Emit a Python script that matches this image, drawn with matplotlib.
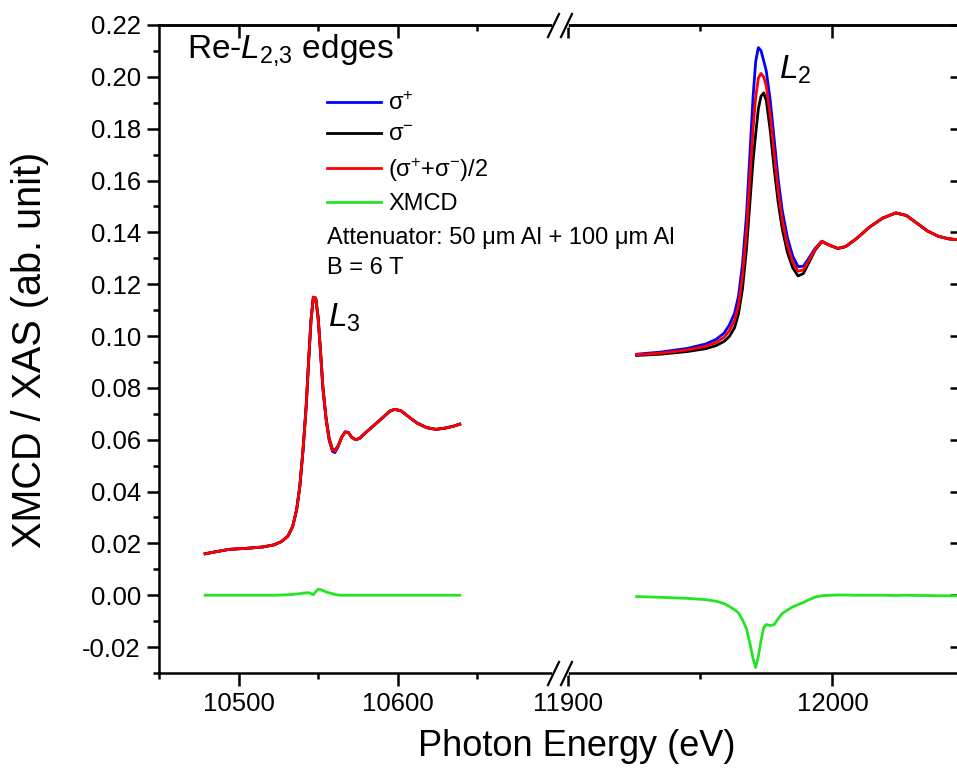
import matplotlib
matplotlib.use("Agg")
import matplotlib.pyplot as plt
from matplotlib.lines import Line2D
from matplotlib.ticker import FixedLocator, MultipleLocator, FormatStrFormatter

plt.rcParams['font.family'] = ['Liberation Sans', 'DejaVu Sans']
plt.rcParams['mathtext.fontset'] = 'custom'
plt.rcParams['mathtext.rm'] = 'Liberation Sans'
plt.rcParams['mathtext.it'] = 'Liberation Sans:italic'
plt.rcParams['axes.unicode_minus'] = False

# ---- L3 edge (left segment) ----
l3_energy = [10479, 10485, 10494, 10505, 10515, 10522, 10527, 10531, 10534, 10536.5,
             10538.5, 10540.5, 10542.5, 10544, 10545.5, 10547, 10548.5, 10550, 10551.5, 10553,
             10555, 10557, 10559, 10560.5, 10562.5, 10565, 10567, 10569, 10571, 10573.5,
             10576, 10580, 10585, 10590, 10595, 10598, 10602, 10607, 10612, 10618,
             10624, 10630, 10635, 10639]
l3_avg = [0.0160, 0.0167, 0.0177, 0.0181, 0.0186, 0.0194, 0.0207, 0.0228, 0.0265, 0.0330,
          0.0420, 0.0560, 0.0730, 0.0900, 0.1060, 0.1150, 0.1145, 0.1070, 0.0940, 0.0800,
          0.0680, 0.0600, 0.0560, 0.0555, 0.0575, 0.0612, 0.0630, 0.0628, 0.0610, 0.0600,
          0.0605, 0.0628, 0.0655, 0.0682, 0.0710, 0.0717, 0.0712, 0.0688, 0.0665, 0.0647,
          0.0640, 0.0645, 0.0652, 0.0660]
l3_plus = [0.0160, 0.0167, 0.0177, 0.0181, 0.0186, 0.0194, 0.0207, 0.0228, 0.0265, 0.0330,
           0.0420, 0.0560, 0.0730, 0.0900, 0.1060, 0.1150, 0.1143, 0.1066, 0.0936, 0.0796,
           0.0675, 0.0595, 0.0555, 0.0550, 0.0572, 0.0612, 0.0630, 0.0628, 0.0610, 0.0600,
           0.0605, 0.0628, 0.0655, 0.0682, 0.0710, 0.0717, 0.0712, 0.0688, 0.0665, 0.0647,
           0.0640, 0.0645, 0.0652, 0.0660]
l3_minus = [0.0160, 0.0167, 0.0177, 0.0181, 0.0186, 0.0194, 0.0207, 0.0228, 0.0265, 0.0330,
            0.0420, 0.0560, 0.0730, 0.0900, 0.1060, 0.1150, 0.1147, 0.1074, 0.0944, 0.0804,
            0.0685, 0.0604, 0.0564, 0.0558, 0.0577, 0.0612, 0.0630, 0.0628, 0.0610, 0.0600,
            0.0605, 0.0628, 0.0655, 0.0682, 0.0710, 0.0717, 0.0712, 0.0688, 0.0665, 0.0647,
            0.0640, 0.0645, 0.0652, 0.0660]
l3_xmcd = [0.0000, 0.0000, 0.0000, 0.0000, 0.0000, 0.0000, 0.0001, 0.0002, 0.0003, 0.0005,
           0.0006, 0.0008, 0.0009, 0.0010, 0.0006, 0.0002, 0.0014, 0.0023, 0.0022, 0.0018,
           0.0013, 0.0009, 0.0006, 0.0003, 0.0001, 0.0000, 0.0000, 0.0000, 0.0000, 0.0000,
           0.0000, 0.0000, 0.0000, 0.0000, 0.0000, 0.0000, 0.0000, 0.0000, 0.0000, 0.0000,
           0.0000, 0.0000, 0.0000, 0.0000]

# ---- L2 edge (right segment) ----
l2_energy = [11926, 11935, 11945, 11952, 11956, 11959, 11961, 11963, 11964.5, 11966,
             11967.5, 11969, 11970, 11971, 11972, 11973, 11974, 11975, 11976.5, 11978,
             11979.5, 11981, 11983, 11985, 11987, 11989, 11991, 11993.5, 11996, 11999,
             12002, 12005, 12009, 12014, 12019, 12024, 12028, 12032, 12036, 12040,
             12044, 12049]
l2_avg = [0.0928, 0.0934, 0.0946, 0.0960, 0.0975, 0.0995, 0.1020, 0.1060, 0.1120, 0.1230,
          0.1400, 0.1640, 0.1800, 0.1920, 0.1995, 0.2013, 0.2000, 0.1965, 0.1850, 0.1700,
          0.1560, 0.1450, 0.1350, 0.1285, 0.1250, 0.1255, 0.1290, 0.1335, 0.1365, 0.1350,
          0.1338, 0.1345, 0.1375, 0.1420, 0.1455, 0.1475, 0.1465, 0.1435, 0.1405, 0.1385,
          0.1375, 0.1370]
l2_plus = [0.0930, 0.0938, 0.0952, 0.0969, 0.0987, 0.1011, 0.1042, 0.1088, 0.1154, 0.1278,
           0.1465, 0.1738, 0.1923, 0.2060, 0.2113, 0.2101, 0.2063, 0.2022, 0.1909, 0.1757,
           0.1605, 0.1486, 0.1379, 0.1308, 0.1268, 0.1269, 0.1299, 0.1339, 0.1366, 0.1350,
           0.1338, 0.1345, 0.1375, 0.1420, 0.1455, 0.1475, 0.1465, 0.1435, 0.1405, 0.1385,
           0.1375, 0.1370]
l2_minus = [0.0925, 0.0930, 0.0940, 0.0951, 0.0963, 0.0979, 0.0998, 0.1032, 0.1086, 0.1182,
            0.1335, 0.1542, 0.1677, 0.1780, 0.1877, 0.1925, 0.1938, 0.1909, 0.1792, 0.1644,
            0.1515, 0.1415, 0.1322, 0.1263, 0.1232, 0.1241, 0.1281, 0.1332, 0.1364, 0.1350,
            0.1338, 0.1345, 0.1375, 0.1420, 0.1455, 0.1475, 0.1465, 0.1435, 0.1405, 0.1385,
            0.1375, 0.1370]
l2_xmcd = [-0.0005, -0.0008, -0.0012, -0.0017, -0.0023, -0.0032, -0.0043, -0.0056, -0.0068, -0.0095,
           -0.0129, -0.0195, -0.0245, -0.0279, -0.0235, -0.0175, -0.0125, -0.0113, -0.0117, -0.0113,
           -0.0090, -0.0071, -0.0057, -0.0045, -0.0036, -0.0028, -0.0018, -0.0007, -0.0002, 0.0000,
           0.0001, 0.0001, 0.0000, 0.0000, 0.0000, -0.0001, 0.0000, -0.0001, -0.0001, -0.0002,
           -0.0002, -0.0003]

colors = {'plus': '#0000ff', 'minus': '#000000', 'avg': '#ff0000', 'xmcd': '#22e622'}
labels = {'plus': 'σ$^{+}$', 'minus': 'σ$^{-}$', 'avg': '(σ$^{+}$+σ$^{-}$)/2', 'xmcd': 'XMCD'}

W, H = 957, 776


def fx(px):
    return px / W


def fy(py):
    return 1 - py / H


fig = plt.figure(figsize=(W / 100, H / 100), dpi=100)
bottom, top = fy(673), fy(25)
ax1 = fig.add_axes([fx(159), bottom, fx(560) - fx(159), top - bottom])
ax2 = fig.add_axes([fx(560), bottom, fx(962) - fx(560), top - bottom], sharey=ax1)

lw = 2.0
for ax, e, p, m, a, x in [(ax1, l3_energy, l3_plus, l3_minus, l3_avg, l3_xmcd),
                          (ax2, l2_energy, l2_plus, l2_minus, l2_avg, l2_xmcd)]:
    ax.plot(e, p, color=colors['plus'], lw=lw, label=labels['plus'])
    ax.plot(e, m, color=colors['minus'], lw=lw, label=labels['minus'])
    ax.plot(e, a, color=colors['avg'], lw=lw, label=labels['avg'])
    ax.plot(e, x, color=colors['xmcd'], lw=lw, label=labels['xmcd'])

ax1.set_xlim(10450, 10702)
ax2.set_xlim(11897, 12049)
ax1.set_ylim(-0.03, 0.22)

ax1.yaxis.set_major_locator(MultipleLocator(0.02))
ax1.yaxis.set_minor_locator(MultipleLocator(0.01))
ax1.yaxis.set_major_formatter(FormatStrFormatter('%.2f'))

ax1.xaxis.set_major_locator(FixedLocator([10500, 10600]))
ax1.xaxis.set_minor_locator(FixedLocator([10450, 10550, 10650]))
ax2.xaxis.set_major_locator(FixedLocator([11900, 12000]))
ax2.xaxis.set_minor_locator(FixedLocator([11950]))

spine_w = 1.8
for ax in (ax1, ax2):
    for s in ax.spines.values():
        s.set_linewidth(spine_w)
ax1.spines['right'].set_visible(False)
ax2.spines['left'].set_visible(False)

tick_font = 18.5
for ax in (ax1, ax2):
    ax.tick_params(axis='x', which='major', direction='out', length=9, width=spine_w,
                   labelsize=tick_font, pad=5, top=False)
    ax.tick_params(axis='x', which='minor', direction='out', length=4.5, width=spine_w, top=False)
ax1.tick_params(axis='y', which='major', direction='out', length=9, width=spine_w,
                labelsize=tick_font, pad=4, right=False)
ax1.tick_params(axis='y', which='minor', direction='out', length=4.5, width=spine_w, right=False)
ax2.tick_params(axis='y', which='major', direction='in', length=9, width=spine_w,
                left=False, right=True, labelleft=False, labelright=False)
ax2.tick_params(axis='y', which='minor', left=False, right=False)

# inward ticks along the top
for ax, maj, mnr in [(ax1, [10500, 10600], [10550, 10650]), (ax2, [11900, 12000], [11950])]:
    sec = ax.secondary_xaxis('top')
    sec.xaxis.set_major_locator(FixedLocator(maj))
    sec.xaxis.set_minor_locator(FixedLocator(mnr))
    sec.tick_params(axis='x', which='major', direction='in', length=9, width=spine_w, labeltop=False)
    sec.tick_params(axis='x', which='minor', direction='in', length=4.5, width=spine_w)
    for s in sec.spines.values():
        s.set_linewidth(spine_w)

fig.text(fx(30), fy(350), 'XMCD / XAS (ab. unit)', fontsize=28.5, rotation=90,
         ha='center', va='center')
fig.text(fx(577), fy(747), 'Photon Energy (eV)', fontsize=26, ha='center', va='center')

# axis break marks
for yb in (25, 673):
    fig.add_artist(Line2D([fx(555), fx(566)], [fy(yb), fy(yb)], color='white', lw=4,
                          transform=fig.transFigure))
    for x0 in (548, 561):
        fig.add_artist(Line2D([fx(x0), fx(x0 + 11)], [fy(yb + 12), fy(yb - 11)], color='black',
                              lw=1.6, transform=fig.transFigure))

# texts
fig.text(fx(187), fy(50), 'Re-$L_{2{,}3}$ edges', fontsize=24, va='center', ha='left')
fig.text(fx(328), fy(318), '$L_3$', fontsize=24, va='center', ha='left')
fig.text(fx(779), fy(70), '$L_2$', fontsize=24, va='center', ha='left')
fig.text(fx(327), fy(238), 'Attenuator: 50 μm Al + 100 μm Al', fontsize=17, va='center', ha='left')
fig.text(fx(327), fy(268), 'B = 6 T', fontsize=17, va='center', ha='left')

handles, labs = ax1.get_legend_handles_labels()
leg = fig.legend(handles, labs, loc='upper left', bbox_to_anchor=(fx(327), fy(92)),
                 frameon=False, fontsize=17, handlelength=2.3, handletextpad=0.3,
                 labelspacing=0.4, borderpad=0, borderaxespad=0)

fig.savefig('out.png', dpi=100)
